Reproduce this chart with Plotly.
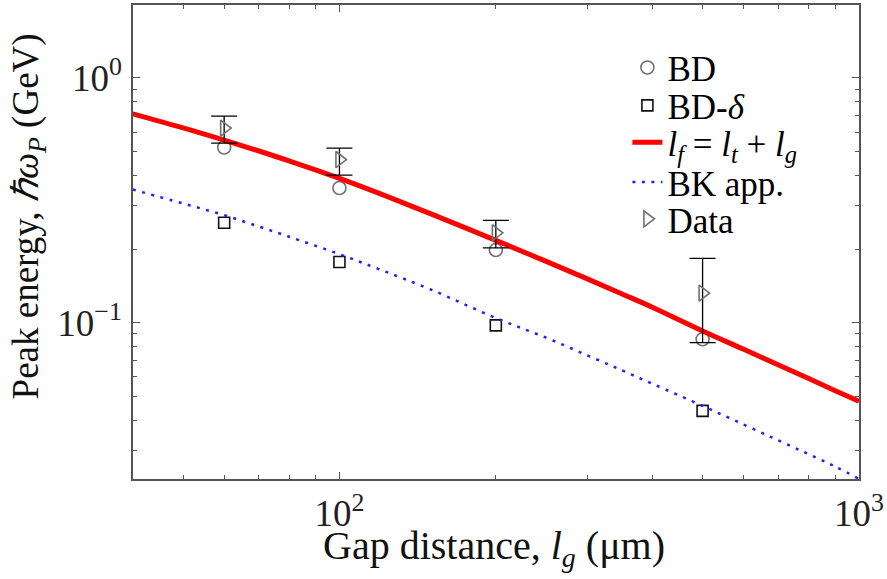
import plotly.graph_objects as go

# ---- data ----
gap_pts = [60, 100, 200, 500]
bd = [0.52, 0.355, 0.198, 0.0855]
bd_delta = [0.256, 0.177, 0.0975, 0.0436]
data_y = [0.624, 0.464, 0.233, 0.132]
data_hi = [0.698, 0.517, 0.262, 0.183]
data_lo = [0.542, 0.401, 0.202, 0.0829]

curve_x = [40, 50, 60, 70, 80, 100, 120, 150, 200, 250, 300, 350, 400, 500,
           600, 700, 800, 900, 1000]
lf_curve = [0.713, 0.625, 0.557, 0.503, 0.458, 0.389, 0.336, 0.2785, 0.217,
            0.178, 0.151, 0.131, 0.1157, 0.0925, 0.0778, 0.0671, 0.0591, 0.0527, 0.0477]
bk_curve = [0.350, 0.307, 0.275, 0.247, 0.2245, 0.1905, 0.1645, 0.1365, 0.1045,
            0.0868, 0.0735, 0.0638, 0.0563, 0.0457, 0.0383, 0.033, 0.029, 0.0258, 0.023]

x_major = [100, 1000]
x_major_text = ["10<sup>2</sup>", "10<sup>3</sup>"]
y_major = [0.1, 1]
y_major_text = ["10<sup>\u22121</sup>", "10<sup>0</sup>"]

names = ["BD", "BD-<i>\u03b4</i>",
         "<i>l<sub>f</sub></i> = <i>l<sub>t</sub></i> + <i>l<sub>g</sub></i>",
         "BK app.", "Data"]

FONT = "Liberation Serif"

err_plus = [h - v for h, v in zip(data_hi, data_y)]
err_minus = [v - l for v, l in zip(data_y, data_lo)]

fig = go.Figure()
fig.add_trace(go.Scatter(x=gap_pts, y=bd, mode="markers", name=names[0],
                         marker=dict(symbol="circle-open", size=13, color="#707070",
                                     line=dict(width=1.6)),
                         legend="legend"))
fig.add_trace(go.Scatter(x=gap_pts, y=bd_delta, mode="markers", name=names[1],
                         marker=dict(symbol="square-open", size=11, color="#111111",
                                     line=dict(width=1.6)),
                         legend="legend2"))
fig.add_trace(go.Scatter(x=curve_x, y=lf_curve, mode="lines", name=names[2],
                         line=dict(color="#ff0000", width=5, shape="spline"),
                         legend="legend3"))
fig.add_trace(go.Scatter(x=curve_x, y=bk_curve, mode="lines", name=names[3],
                         line=dict(color="#2020ff", width=2.5, dash="3px,6.5px",
                                   shape="spline"),
                         legend="legend4"))
fig.add_trace(go.Scatter(x=gap_pts, y=data_y, mode="markers", name=names[4],
                         marker=dict(symbol="triangle-right-open", size=14,
                                     color="#707070", line=dict(width=1.6)),
                         error_y=dict(type="data", symmetric=False, array=err_plus,
                                      arrayminus=err_minus, color="#000000",
                                      thickness=1.3, width=13),
                         legend="legend5"))

def row(c):
    return 1 - (c - 3) / 476

leg_common = dict(x=0.681, xanchor="left", yanchor="middle",
                  bgcolor="rgba(0,0,0,0)", font=dict(family=FONT, size=35, color="#000"))
layout_legends = {}
for i, c in enumerate([66, 104, 141, 181, 218]):
    key = "legend" if i == 0 else f"legend{i+1}"
    layout_legends[key] = dict(y=row(c), **leg_common)

axis_common = dict(type="log", showline=True, linecolor="#555555", linewidth=1.5,
                   mirror="allticks", ticks="inside", ticklen=7, tickwidth=1.2,
                   tickcolor="#555555", showgrid=False, zeroline=False,
                   tickfont=dict(family=FONT, size=37, color="#222222"))

fig.update_layout(
    width=887, height=579,
    margin=dict(l=133, r=26, t=3, b=100),
    paper_bgcolor="white", plot_bgcolor="white",
    showlegend=True,
    xaxis=dict(range=[1.6027, 3.0], tickmode="array", tickvals=x_major,
               ticktext=x_major_text, ticklabelstandoff=1,
               minor=dict(tickmode="array",
                          tickvals=[50, 60, 70, 80, 90, 200, 300, 400, 500, 600, 700, 800, 900],
                          ticks="inside", ticklen=4, tickcolor="#555555", tickwidth=1.2),
               **axis_common),
    yaxis=dict(range=[-1.639, 0.2983], tickmode="array", tickvals=y_major,
               ticktext=y_major_text, ticklabelstandoff=2,
               minor=dict(tickmode="array",
                          tickvals=[0.03, 0.04, 0.05, 0.06, 0.07, 0.08, 0.09,
                                    0.2, 0.3, 0.4, 0.5, 0.6, 0.7, 0.8, 0.9],
                          ticks="inside", ticklen=4, tickcolor="#555555", tickwidth=1.2),
               **axis_common),
    annotations=[
        dict(text="Gap distance, <i>l<sub>g</sub></i> (\u03bcm)", xref="paper", yref="paper",
             x=(495 - 133) / 728, y=row(548), xanchor="center", yanchor="middle",
             showarrow=False, font=dict(family=FONT, size=40, color="#111")),
        dict(text="Peak energy, <i>\u210f\u03c9<sub>P</sub></i> (GeV)", xref="paper",
             yref="paper", x=(28 - 133) / 728, y=row(215), xanchor="center",
             yanchor="middle", textangle=-90, showarrow=False,
             font=dict(family=FONT, size=37, color="#111")),
    ],
    **layout_legends,
)

fig.write_html("out.html")
